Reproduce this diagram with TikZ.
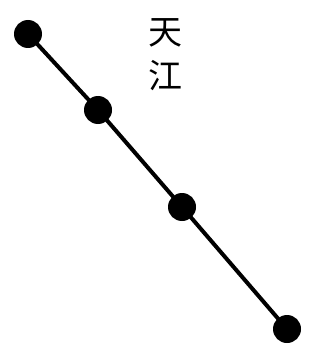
\documentclass[tikz,border=0pt]{standalone}
\usepackage{fontspec}
\newfontfamily\cjk{Noto Sans CJK SC}
\begin{document}
\begin{tikzpicture}[x=1pt,y=-1pt,
  dot/.style={circle,fill=black,inner sep=0pt,minimum size=28pt},
  link/.style={line width=4pt,black},
  label/.style={font=\cjk\fontsize{34}{36}\selectfont,inner sep=0pt}]
\useasboundingbox (0,0) rectangle (331,350);
\node[dot] (a) at (28,34) {};
\node[dot] (b) at (98,110) {};
\node[dot] (c) at (182,207) {};
\node[dot] (d) at (287,329) {};
\draw[link] (a.center) -- (b.center) -- (c.center) -- (d.center);
\node[label] (t1) at (165,33) {天};
\node[label] (t2) at (165,76) {江};
\end{tikzpicture}
\end{document}
